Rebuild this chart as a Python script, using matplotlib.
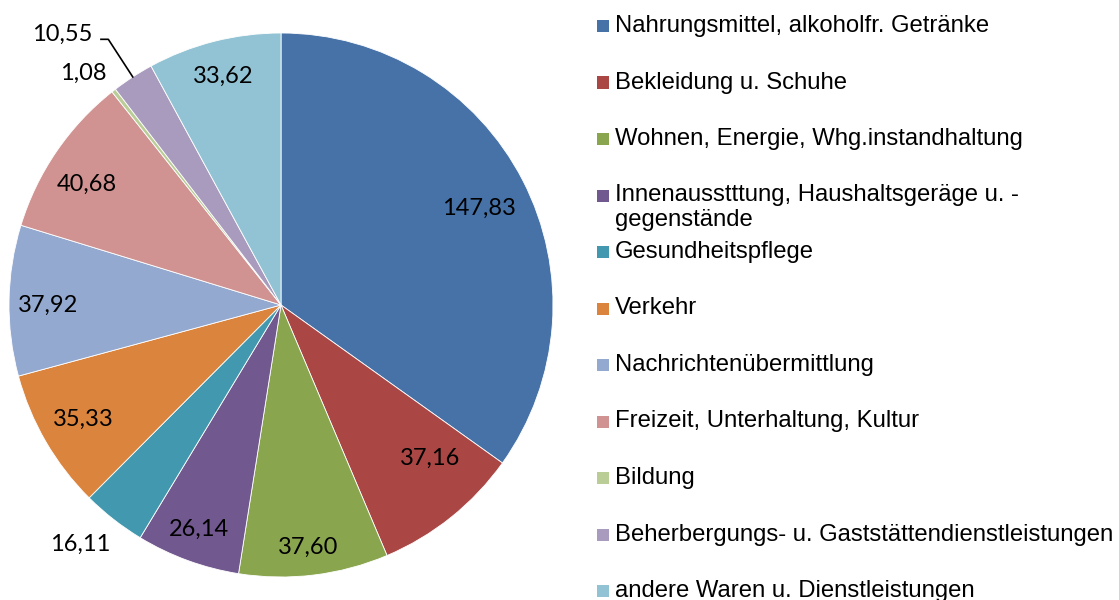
import numpy as np
import matplotlib.pyplot as plt
from matplotlib.patches import Rectangle

categories = [
    'Nahrungsmittel, alkoholfr. Getränke',
    'Bekleidung u. Schuhe',
    'Wohnen, Energie, Whg.instandhaltung',
    'Innenausstttung, Haushaltsgeräge u. -\ngegenstände',
    'Gesundheitspflege',
    'Verkehr',
    'Nachrichtenübermittlung',
    'Freizeit, Unterhaltung, Kultur',
    'Bildung',
    'Beherbergungs- u. Gaststättendienstleistungen',
    'andere Waren u. Dienstleistungen',
]
values = [147.83, 37.16, 37.60, 26.14, 16.11, 35.33, 37.92, 40.68, 1.08, 10.55, 33.62]
value_labels = ['147,83', '37,16', '37,60', '26,14', '16,11', '35,33',
                '37,92', '40,68', '1,08', '10,55', '33,62']
colors = ['#4672A8', '#AA4644', '#89A54E', '#71588F', '#4298AF', '#DB843D',
          '#93A9D0', '#D09392', '#BACD96', '#A99BBD', '#92C3D4']

W, H = 1119, 600
fig = plt.figure(figsize=(W / 100, H / 100), dpi=100)

# pie area: center (281, 305), radius 272 px
cx, cy, R = 281, 305, 272
ax = fig.add_axes([(cx - R) / W, (H - cy - R) / H, 2 * R / W, 2 * R / H])
wedges, _ = ax.pie(values, colors=colors, startangle=90, counterclock=False,
                   radius=1.0, wedgeprops=dict(edgecolor='white', linewidth=0.6))
ax.set_xlim(-1, 1)
ax.set_ylim(-1, 1)
ax.set_aspect('equal')
ax.axis('off')

lab_font = dict(family='Lato', fontsize=17, color='black')
# label distance (radius fraction) and small angle nudge per slice
lab_r = [0.81, 0.785, 0.895, 0.88, 1.15, 0.84, 0.857, 0.84, 1.12, 1.0, 0.866]
lab_dt = [-1.2, 5.5, -0.6, 0, -2, 0, 1.0, 2.5, 2.5, 0, 0]
for i, w in enumerate(wedges):
    mid = np.deg2rad((w.theta1 + w.theta2) / 2)
    if i == 9:
        # leader line label
        p0 = (np.cos(mid), np.sin(mid))
        r1 = 1.165
        p1 = (r1 * np.cos(mid), r1 * np.sin(mid))
        p2 = (p1[0] - 0.027, p1[1])
        ax.plot([p0[0], p1[0], p2[0]], [p0[1], p1[1], p2[1]],
                color='black', lw=1.2, clip_on=False)
        ax.text(p2[0] - 0.03, p2[1] + 0.02, value_labels[i], ha='right', va='center',
                **lab_font)
        continue
    r = lab_r[i]
    a = mid + np.deg2rad(lab_dt[i])
    ax.text(r * np.cos(a), r * np.sin(a), value_labels[i],
            ha='center', va='center', **lab_font)

# legend drawn by hand (Excel style even spacing)
leg_top, leg_step = 26, 56.5
for i, (cat, col) in enumerate(zip(categories, colors)):
    y = leg_top + i * leg_step
    fig.patches.append(Rectangle((597 / W, 1 - (y + 6) / H), 12 / W, 12 / H,
                                 transform=fig.transFigure, facecolor=col,
                                 edgecolor='none'))
    lines = cat.split('\n')
    for j, line in enumerate(lines):
        fig.text(615 / W, 1 - (y + j * 25) / H, line, ha='left', va='center',
                 family='Liberation Sans', fontsize=17.2, color='black')

fig.savefig('out.png', dpi=100)
